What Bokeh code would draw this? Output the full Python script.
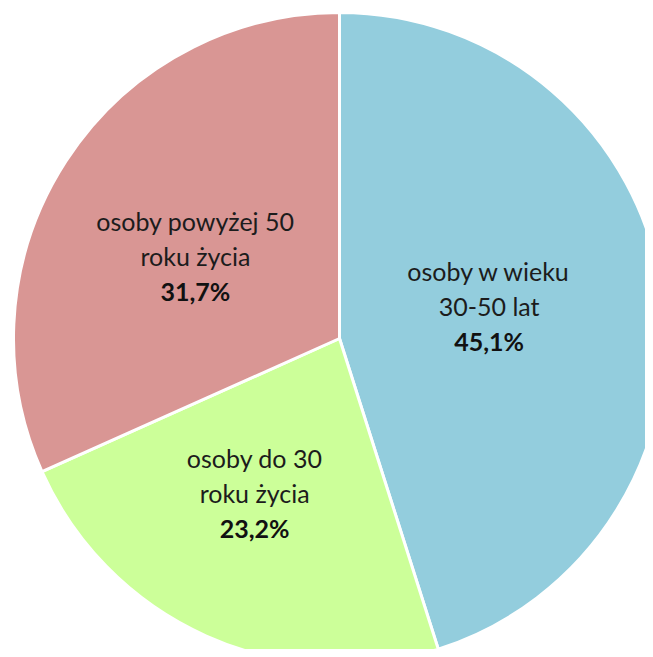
import math
from bokeh.plotting import figure
from bokeh.models import Range1d, ColumnDataSource
from bokeh.core.properties import value
from bokeh.embed import file_html
from bokeh.resources import INLINE

# ---- data ----
categories = ["osoby w wieku\n30-50 lat", "osoby do 30\nroku życia", "osoby powyżej 50\nroku życia"]
shares = [45.1, 23.2, 31.7]
share_labels = ["45,1%", "23,2%", "31,7%"]
colors = ["#93CDDD", "#CCFF99", "#D99694"]

# ---- layout (picture pixels) ----
W, H = 645, 649
cx, cy_top, R = 339, 338, 326
cy = H - cy_top
label_frac = [0.47, 0.54, 0.51]
label_tweak_deg = [3.6, -4.7, 3.0]
line_gap = 35
FONT = "Lato"
FS = "25px"

p = figure(width=W, height=H, output_backend="svg", toolbar_location=None,
           x_range=Range1d(0, W), y_range=Range1d(0, H),
           min_border=0, background_fill_color="white", border_fill_color="white")
p.axis.visible = False
p.grid.visible = False
p.outline_line_color = None

total = sum(shares)
starts, ends, mids = [], [], []
cum = 0.0
for s in shares:
    end = math.pi / 2 - 2 * math.pi * cum / total
    start = end - 2 * math.pi * s / total
    starts.append(start)
    ends.append(end)
    mids.append((start + end) / 2)
    cum += s

src = ColumnDataSource(dict(start=starts, end=ends, color=colors))
p.wedge(x=cx, y=cy, radius=R, start_angle="start", end_angle="end",
        fill_color="color", line_color="white", line_width=3, source=src)

for i, cat in enumerate(categories):
    a = mids[i] + math.radians(label_tweak_deg[i])
    lx = cx + R * label_frac[i] * math.cos(a)
    ly = cy + R * label_frac[i] * math.sin(a)
    lines = cat.split("\n")
    p.text(x=[lx, lx], y=[ly + line_gap, ly], text=lines,
           text_font=value(FONT), text_font_size=FS, text_color="#1c1c1c",
           text_align="center", text_baseline="middle")
    p.text(x=[lx], y=[ly - line_gap], text=[share_labels[i]],
           text_font=value(FONT), text_font_size=FS, text_font_style="bold",
           text_color="#111111", text_align="center", text_baseline="middle")

open("out.html", "w").write(file_html(p, INLINE))
